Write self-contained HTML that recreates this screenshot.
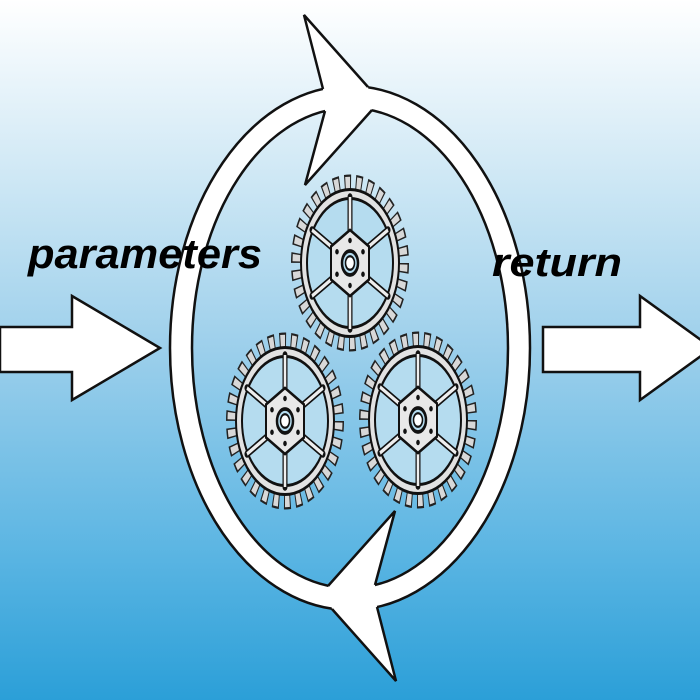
<!DOCTYPE html>
<html><head><style>
html,body{margin:0;padding:0;width:700px;height:700px;overflow:hidden}
body{background:linear-gradient(#ffffff 0%,#cfe8f5 25%,#9ccfeb 50%,#5db6e3 78%,#2b9fd8 100%)}
svg{position:absolute;left:0;top:0}
</style></head><body>
<svg width="700" height="700" viewBox="0 0 700 700">
<defs>
<g id="gear">
  <circle r="53" fill="none" stroke="#222" stroke-width="12" stroke-dasharray="6.5 4.6"/>
  <circle r="53" fill="none" stroke="#d8d8d8" stroke-width="9" stroke-dasharray="4.5 6.6" stroke-dashoffset="-1"/>
  <circle r="49" fill="#e2e2e2" stroke="#111" stroke-width="2"/>
  <circle r="43" fill="#b5dcef" stroke="#111" stroke-width="2"/>
  <g stroke="#111" stroke-width="5" stroke-linecap="round">
    <line x1="0" y1="-20" x2="0" y2="-44"/><line x1="0" y1="20" x2="0" y2="44"/>
    <line x1="17" y1="-10" x2="38" y2="-22"/><line x1="-17" y1="-10" x2="-38" y2="-22"/>
    <line x1="17" y1="10" x2="38" y2="22"/><line x1="-17" y1="10" x2="-38" y2="22"/>
  </g>
  <g stroke="#eee" stroke-width="2.5">
    <line x1="0" y1="-20" x2="0" y2="-44"/><line x1="0" y1="20" x2="0" y2="44"/>
    <line x1="17" y1="-10" x2="38" y2="-22"/><line x1="-17" y1="-10" x2="-38" y2="-22"/>
    <line x1="17" y1="10" x2="38" y2="22"/><line x1="-17" y1="10" x2="-38" y2="22"/>
  </g>
  <polygon points="0,-22 19,-11 19,11 0,22 -19,11 -19,-11" fill="#e8e8e8" stroke="#111" stroke-width="2"/>
  <circle r="8" fill="#b5dcef" stroke="#111" stroke-width="2.5"/>
  <circle r="4.5" fill="#fff" stroke="#111" stroke-width="1.5"/>
  <g fill="#111"><circle cx="0" cy="-15" r="1.8"/><circle cx="0" cy="15" r="1.8"/><circle cx="13" cy="-7.5" r="1.8"/><circle cx="-13" cy="-7.5" r="1.8"/><circle cx="13" cy="7.5" r="1.8"/><circle cx="-13" cy="7.5" r="1.8"/></g>
</g>
<g id="head">
  <polygon points="304,15 368,87 372,110 305,185 325,111 323,89" fill="#fff"/>
  <g fill="none" stroke="#111" stroke-width="2.5" stroke-linejoin="miter">
    <polyline points="323,89 304,15 368,87"/>
    <polyline points="372,110 305,185 325,111"/>
  </g>
</g>
</defs>
<!-- ring -->
<path fill="#fff" fill-rule="evenodd" stroke="#111" stroke-width="2.5"
 d="M170,348 a180,262 0 1,0 360,0 a180,262 0 1,0 -360,0 Z M192,348 a158,240 0 1,0 316,0 a158,240 0 1,0 -316,0 Z"/>
<use href="#head"/>
<use href="#head" transform="rotate(180,350,348)"/>
<!-- gears -->
<g transform="translate(350,263) scale(1,1.5)"><use href="#gear"/></g>
<g transform="translate(285,421) scale(1,1.5)"><use href="#gear"/></g>
<g transform="translate(418,420) scale(1,1.5)"><use href="#gear"/></g>
<!-- arrows -->
<polygon points="0,327 72,327 72,296 160,348 72,400 72,372 0,372" fill="#fff" stroke="#111" stroke-width="2.5"/>
<polygon points="543,327 640,327 640,296 712,348 640,400 640,372 543,372" fill="#fff" stroke="#111" stroke-width="2.5"/>
<text x="28" y="268" textLength="234" lengthAdjust="spacingAndGlyphs" font-family="Liberation Sans, sans-serif" font-style="italic" font-weight="bold" font-size="42" fill="#000">parameters</text>
<text x="492" y="276" textLength="130" lengthAdjust="spacingAndGlyphs" font-family="Liberation Sans, sans-serif" font-style="italic" font-weight="bold" font-size="40" fill="#000">return</text>
</svg>
</body></html>
